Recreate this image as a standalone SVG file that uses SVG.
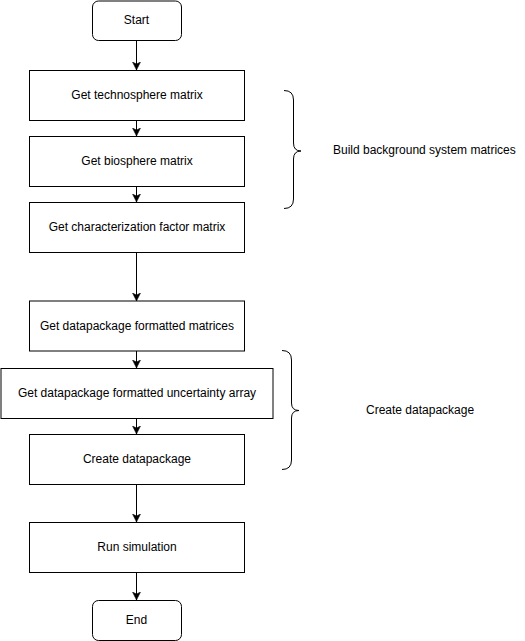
<svg xmlns="http://www.w3.org/2000/svg" width="525" height="641" viewBox="0 0 525 641">
<style>
.box{fill:#fff;stroke:#000;stroke-width:1}
.t{font-family:"Liberation Sans",Arial,Helvetica,sans-serif;font-size:12px;fill:#000;text-anchor:middle;dominant-baseline:central}
.tl{font-family:"Liberation Sans",Arial,Helvetica,sans-serif;font-size:12px;fill:#000;dominant-baseline:central}
.c{fill:none;stroke:#000;stroke-width:1}
</style>
<defs>
<marker id="arr" markerUnits="userSpaceOnUse" markerWidth="10" markerHeight="10" refX="8" refY="4" orient="auto" viewBox="0 0 10 8">
<path d="M0,0 L8,4 L0,8 L2,4 Z" fill="#000" stroke="#000" stroke-width="0.5"/>
</marker>
</defs>
<rect width="525" height="641" fill="#fff"/>
<g id="connectors">
<line class="c" x1="136.5" y1="40.5" x2="136.5" y2="70" marker-end="url(#arr)"/>
<line class="c" x1="136.5" y1="120.5" x2="136.5" y2="136" marker-end="url(#arr)"/>
<line class="c" x1="136.5" y1="186.5" x2="136.5" y2="202" marker-end="url(#arr)"/>
<line class="c" x1="136.5" y1="252.5" x2="136.5" y2="301" marker-end="url(#arr)"/>
<line class="c" x1="136.5" y1="351" x2="136.5" y2="368" marker-end="url(#arr)"/>
<line class="c" x1="136.5" y1="418.5" x2="136.5" y2="434" marker-end="url(#arr)"/>
<line class="c" x1="136.5" y1="484.5" x2="136.5" y2="522" marker-end="url(#arr)"/>
<line class="c" x1="136.5" y1="572.5" x2="136.5" y2="600" marker-end="url(#arr)"/>
</g>
<g id="start">
<rect class="box" x="92.5" y="1" width="89" height="39.5" rx="6"/>
<text class="t" x="136.5" y="20">Start</text>
</g>
<g id="technosphere">
<rect class="box" x="29.5" y="70.5" width="215" height="50"/>
<text class="t" x="137" y="95">Get technosphere matrix</text>
</g>
<g id="biosphere">
<rect class="box" x="29.5" y="136.5" width="215" height="50"/>
<text class="t" x="137" y="161">Get biosphere matrix</text>
</g>
<g id="characterization">
<rect class="box" x="29.5" y="202.5" width="215" height="50"/>
<text class="t" x="137" y="227">Get characterization factor matrix</text>
</g>
<g id="dp-matrices">
<rect class="box" x="29.5" y="301" width="215" height="50"/>
<text class="t" x="137" y="325.5">Get datapackage formatted matrices</text>
</g>
<g id="dp-uncertainty">
<rect class="box" x="1" y="368.5" width="272" height="50"/>
<text class="t" x="137" y="393">Get datapackage formatted uncertainty array</text>
</g>
<g id="create-dp">
<rect class="box" x="29.5" y="434.5" width="215" height="50"/>
<text class="t" x="137" y="459">Create datapackage</text>
</g>
<g id="run-sim">
<rect class="box" x="29.5" y="522.5" width="215" height="50"/>
<text class="t" x="137" y="547">Run simulation</text>
</g>
<g id="end">
<rect class="box" x="92.5" y="600.5" width="89" height="40" rx="6"/>
<text class="t" x="136.5" y="620">End</text>
</g>
<g id="brace-build">
<path class="c" d="M284,90.5 Q293.5,90.5 293.5,100 L293.5,143 Q293.5,151 301,151 Q293.5,151 293.5,159 L293.5,199 Q293.5,208.5 284,208.5"/>
<text class="tl" x="333" y="150">Build background system matrices</text>
</g>
<g id="brace-create">
<path class="c" d="M282,350.5 Q291.5,350.5 291.5,360 L291.5,403 Q291.5,410.5 299,410.5 Q291.5,410.5 291.5,418 L291.5,460 Q291.5,469.5 282,469.5"/>
<text class="tl" x="366" y="410">Create datapackage</text>
</g>
</svg>
